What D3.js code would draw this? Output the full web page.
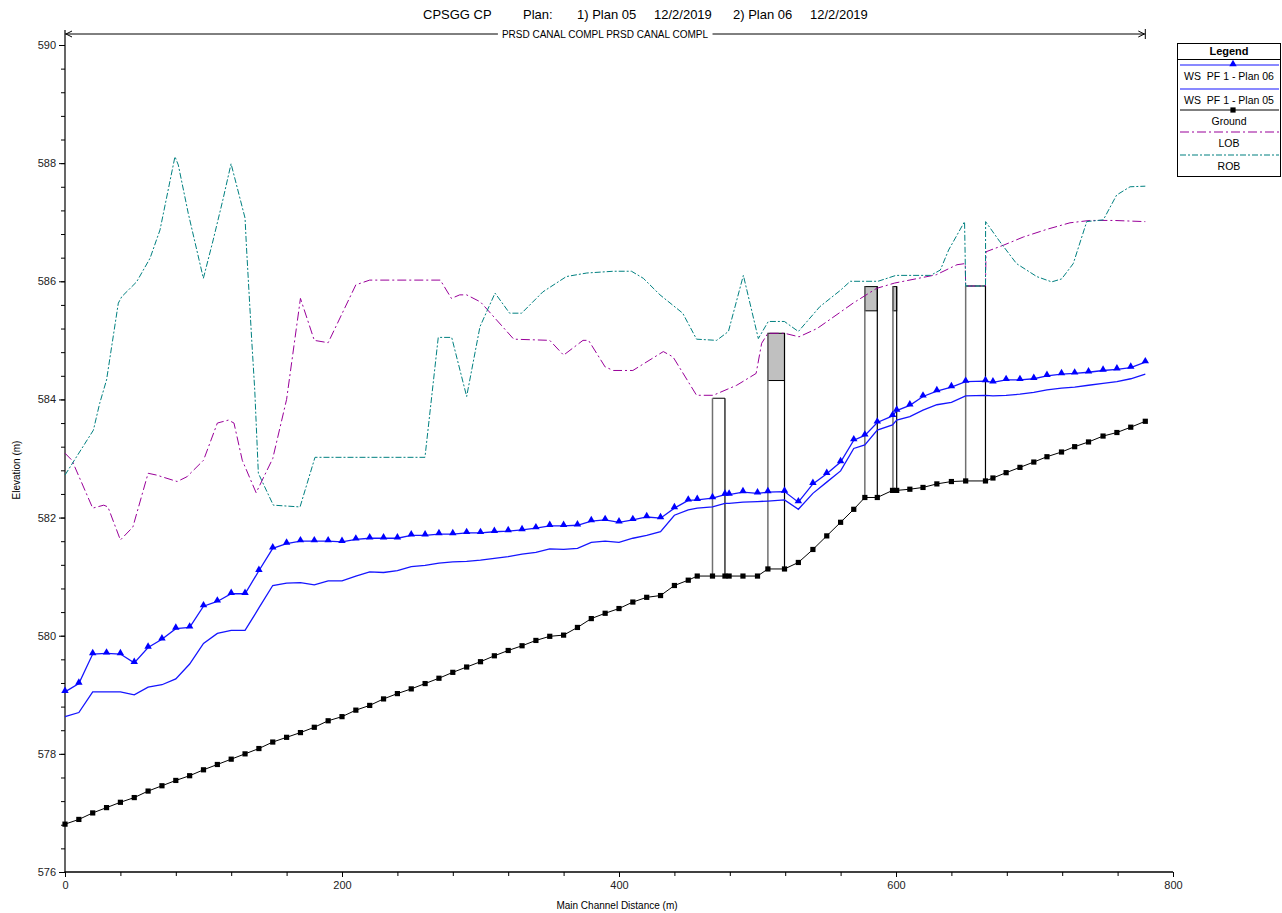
<!DOCTYPE html>
<html><head><meta charset="utf-8">
<script src="https://cdn.jsdelivr.net/npm/d3@7"></script>
<style>
body{margin:0;background:#fff;}
text{font-family:"Liberation Sans",Arial,sans-serif;fill:#000;white-space:pre;}
</style>
</head><body>
<svg id="chart" width="1282" height="913"></svg>
<script>
// ---------------- DATA ----------------
const stations = [0,10,20,30,40,50,60,70,80,90,
 100,110,120,130,140,150,160,170,180,190,
 200,210,220,230,240,250,260,270,280,290,
 300,310,320,330,340,350,360,370,380,390,
 400,410,420,430,440,450,456.5,467.5,476.5,479.5,
 489.5,500,507.5,519.5,529.5,540,550,560,569.5,577.5,
 586.5,597.5,600.5,610,619.5,629.5,640,650.3,664.6,670,
 679.5,689.5,699.5,709,719.5,729,739,749.5,759.5,769.5,
 780];
const ground = [576.81,576.89,577.00,577.09,577.18,577.26,577.37,577.46,577.55,577.63,
 577.73,577.82,577.91,578.00,578.09,578.20,578.28,578.36,578.45,578.56,
 578.63,578.74,578.82,578.93,579.02,579.10,579.19,579.28,579.38,579.47,
 579.56,579.66,579.75,579.83,579.92,579.99,580.01,580.14,580.29,580.38,
 580.46,580.57,580.65,580.68,580.85,580.94,581.01,581.01,581.01,581.01,
 581.01,581.01,581.13,581.13,581.24,581.46,581.69,581.92,582.14,582.34,
 582.34,582.46,582.46,582.48,582.51,582.57,582.61,582.62,582.62,582.67,
 582.76,582.85,582.94,583.03,583.11,583.20,583.28,583.38,583.44,583.53,
 583.63];
const wsPlan06 = [579.05,579.19,579.69,579.70,579.69,579.54,579.80,579.94,580.12,580.14,
 580.50,580.58,580.71,580.71,581.10,581.48,581.56,581.60,581.60,581.60,
 581.59,581.63,581.65,581.65,581.65,581.70,581.70,581.72,581.72,581.74,
 581.74,581.76,581.77,581.79,581.82,581.86,581.86,581.87,581.94,581.96,
 581.92,581.96,582.01,581.99,582.16,582.29,582.30,582.33,582.39,582.39,
 582.43,582.41,582.43,582.44,582.26,582.57,582.74,582.94,583.31,583.39,
 583.61,583.72,583.81,583.90,584.05,584.14,584.21,584.30,584.31,584.29,
 584.33,584.33,584.35,584.40,584.43,584.44,584.46,584.49,584.51,584.54,
 584.63];
const wsPlan05 = [578.63,578.70,579.05,579.05,579.05,579.00,579.13,579.17,579.27,579.52,
 579.87,580.04,580.09,580.09,580.47,580.85,580.89,580.90,580.86,580.93,
 580.93,581.01,581.08,581.07,581.10,581.17,581.19,581.23,581.25,581.26,
 581.28,581.31,581.34,581.38,581.41,581.47,581.46,581.48,581.58,581.60,
 581.58,581.65,581.70,581.76,582.04,582.13,582.16,582.18,582.24,582.24,
 582.26,582.27,582.28,582.30,582.14,582.41,582.60,582.79,583.17,583.23,
 583.48,583.57,583.65,583.71,583.82,583.91,583.95,584.06,584.07,584.06,
 584.07,584.09,584.12,584.16,584.19,584.21,584.24,584.27,584.30,584.35,
 584.43];
const lobDist = [0,5,20,28,31,40,49,60,66,81,88,100,110,118,122,128,138,150,160,170,
 180,190,210,220,271,279,285,290,300,324,350,360,374,378,390,396,410,432,439,456,
 468,485,499,503,507.5,519.5,530,543,560,569,586,599,629,644,650,650.3,664.6,665,677.5,692,
 709,725.6,740,757,780];
const lobElev = [583.09,582.97,582.16,582.21,582.18,581.62,581.84,582.75,582.72,582.61,
 582.69,582.97,583.60,583.65,583.60,582.97,582.42,583.00,584.00,585.71,
 585.00,584.96,585.94,586.02,586.02,585.71,585.77,585.77,585.65,585.02,
 585.00,584.75,585.00,585.00,584.55,584.49,584.49,584.81,584.72,584.07,
 584.07,584.24,584.44,584.95,585.12,585.12,585.06,585.20,585.48,585.63,
 585.88,585.97,586.11,586.28,586.30,585.92,585.92,586.50,586.61,586.75,
 586.88,586.99,587.03,587.03,587.01];
const robDist = [0,20.5,25,30,38.5,41,51.7,61.4,68.6,79.4,81.8,89,99.9,107,114,119.9,130,131,134.8,137,
 139.6,150.4,169.7,180.5,259.9,269.5,279.2,290,299.6,310.5,321,329.7,345,362,376.7,396,409,417.6,429.6,446,
 456,470.5,479,489.8,500.6,507.8,519.4,529.5,545,560,567,587,600,625,632,638,649.5,650.3,664.6,664.7,
 675,687,701.6,712.4,719.6,728,737.7,749.7,759.3,769,780];
const robElev = [582.72,583.48,583.93,584.33,585.63,585.74,585.99,586.39,586.87,588.11,
 587.97,587.15,586.05,586.70,587.38,587.99,587.07,586.59,585.01,584.16,
 582.75,582.21,582.18,583.02,583.02,585.05,585.05,584.05,585.23,585.80,
 585.46,585.46,585.82,586.08,586.14,586.17,586.17,586.05,585.77,585.46,
 585.02,585.00,585.15,586.10,585.03,585.32,585.32,585.15,585.57,585.85,
 586.00,586.00,586.10,586.10,586.19,586.53,587.01,585.92,585.92,587.01,
 586.67,586.30,586.08,585.99,586.04,586.30,587.01,587.04,587.46,587.60,
 587.61];
const bridgeUp = [467.5,507.5,577.5,597.8,650.3];
const bridgeDn = [476.5,519.5,586.5,600.5,664.6];
const lowChord = [584.02,584.32,585.50,585.50,585.92];
const highChord = [584.02,585.12,585.91,585.91,585.92];
const reachStart = 0, reachEnd = 780;
const xTicks = [0,200,400,600,800];
const yTicks = [576,578,580,582,584,586,588,590];
const titleParts = ["CPSGG CP","Plan:","1) Plan 05","12/2/2019","2) Plan 06","12/2/2019"];
const reachLabel = "PRSD CANAL COMPL PRSD CANAL COMPL";
const legendLabels = ["WS  PF 1 - Plan 06","WS  PF 1 - Plan 05","Ground","LOB","ROB"];
const xTitle = "Main Channel Distance (m)";
const yTitle = "Elevation (m)";

// ---------------- LAYOUT ----------------
const svg = d3.select("#chart");
const x = d3.scaleLinear().domain([0,800]).range([65,1173]);
const y = d3.scaleLinear().domain([576,590]).range([872,45]);
const WS_COLOR = "#1515ff", LOB_COLOR = "#990099", ROB_COLOR = "#008080";

// title
const titleX = [423,523,577,654,733,810];
const title = svg.append("text").attr("y",19).style("font-size","13px");
titleParts.forEach((t,i)=> title.append("tspan").attr("x",titleX[i]).text(t));

// axes
const gx = svg.append("g").attr("transform","translate(0,872)");
gx.call(d3.axisBottom(x).tickValues(d3.range(0,801,40)).tickSize(4).tickFormat(""));
gx.select(".domain").remove();
const gxl = svg.append("g").attr("transform","translate(0,872)")
  .call(d3.axisBottom(x).tickValues(xTicks).tickSize(5).tickPadding(4).tickFormat(d3.format("d")));
gxl.select(".domain").remove();
gxl.selectAll("text").style("font-size","11px").style("fill","#222").attr("font-family",null);

const gy = svg.append("g").attr("transform","translate(65,0)");
gy.call(d3.axisLeft(y).tickValues(d3.range(576,590.01,0.4)).tickSize(4).tickFormat(""));
gy.select(".domain").remove();
const gyl = svg.append("g").attr("transform","translate(65,0)")
  .call(d3.axisLeft(y).tickValues(yTicks).tickSize(6).tickPadding(3).tickFormat(d3.format("d")));
gyl.select(".domain").remove();
gyl.selectAll("text").style("font-size","11px").style("fill","#222").attr("font-family",null);

svg.append("line").attr("x1",65).attr("x2",65).attr("y1",30).attr("y2",872.5).attr("stroke","#000").attr("stroke-width",1.2);
svg.append("line").attr("x1",64.5).attr("x2",1173).attr("y1",872).attr("y2",872).attr("stroke","#000").attr("stroke-width",1.5);

svg.append("text").attr("x",617).attr("y",909).attr("text-anchor","middle").style("font-size","10px").text(xTitle);
svg.append("text").attr("transform","translate(20,470) rotate(-90)").attr("text-anchor","middle").style("font-size","10px").text(yTitle);

// reach line
const ry = 34;
const gr = svg.append("g");
gr.append("line").attr("x1",x(reachStart)).attr("x2",x(reachEnd)).attr("y1",ry).attr("y2",ry).attr("stroke","#000");
gr.append("path").attr("d",`M${x(reachStart)+7},${ry-3}L${x(reachStart)+1},${ry}L${x(reachStart)+7},${ry+3}`).attr("fill","none").attr("stroke","#000");
gr.append("path").attr("d",`M${x(reachEnd)-7},${ry-3}L${x(reachEnd)-1},${ry}L${x(reachEnd)-7},${ry+3}`).attr("fill","none").attr("stroke","#000");
gr.append("line").attr("x1",x(reachEnd)).attr("x2",x(reachEnd)).attr("y1",ry-5).attr("y2",ry+5).attr("stroke","#000");
const bgRect = gr.append("rect").attr("fill","#fff");
const rl = gr.append("text").attr("x",605).attr("y",ry+4).attr("text-anchor","middle").style("font-size","10px").text(reachLabel);
const bb = rl.node().getBBox();
bgRect.attr("x",bb.x-4).attr("y",bb.y).attr("width",bb.width+8).attr("height",bb.height);

// helpers
const groundAt = d3.scaleLinear().domain(stations).range(ground);

// bridges
const gb = svg.append("g");
bridgeUp.forEach((u,i)=>{
  const dn = bridgeDn[i];
  if (highChord[i] > lowChord[i]) {
    gb.append("rect").attr("x",x(u)).attr("y",y(highChord[i]))
      .attr("width",x(dn)-x(u)).attr("height",y(lowChord[i])-y(highChord[i]))
      .attr("fill","#c0c0c0").attr("stroke","#000");
  } else {
    gb.append("line").attr("x1",x(u)).attr("x2",x(dn)).attr("y1",y(highChord[i])).attr("y2",y(highChord[i])).attr("stroke","#000");
  }
  gb.append("line").attr("x1",x(u)).attr("x2",x(u)).attr("y1",y(groundAt(u))).attr("y2",y(highChord[i])).attr("stroke","#707070").attr("stroke-width",1.5);
  gb.append("line").attr("x1",x(dn)).attr("x2",x(dn)).attr("y1",y(groundAt(dn))).attr("y2",y(highChord[i])).attr("stroke","#000").attr("stroke-width",1.2);
});

// lines
const line = d3.line().x(d=>x(d[0])).y(d=>y(d[1]));
svg.append("path").datum(lobDist.map((d,i)=>[d,lobElev[i]])).attr("d",line)
  .attr("fill","none").attr("stroke",LOB_COLOR).attr("stroke-width",1).attr("stroke-dasharray","9,3,2,3");
svg.append("path").datum(robDist.map((d,i)=>[d,robElev[i]])).attr("d",line)
  .attr("fill","none").attr("stroke",ROB_COLOR).attr("stroke-width",1).attr("stroke-dasharray","6,2,2,2");

svg.append("path").datum(stations.map((d,i)=>[d,wsPlan05[i]])).attr("d",line)
  .attr("fill","none").attr("stroke",WS_COLOR).attr("stroke-width",1.3);
svg.append("path").datum(stations.map((d,i)=>[d,wsPlan06[i]])).attr("d",line)
  .attr("fill","none").attr("stroke",WS_COLOR).attr("stroke-width",1.3);
svg.append("path").datum(stations.map((d,i)=>[d,ground[i]])).attr("d",line)
  .attr("fill","none").attr("stroke","#000").attr("stroke-width",1);

const tri = d3.symbol().type(d3.symbolTriangle).size(24);
svg.append("g").selectAll("path").data(stations).join("path")
  .attr("d",tri).attr("transform",(d,i)=>`translate(${x(d)},${y(wsPlan06[i])-1})`).attr("fill","#0000ff");
svg.append("g").selectAll("rect").data(stations).join("rect")
  .attr("x",d=>x(d)-2.6).attr("y",(d,i)=>y(ground[i])-2.6).attr("width",5.2).attr("height",5.2).attr("fill","#000");

// legend
const L = svg.append("g");
L.append("rect").attr("x",1177.5).attr("y",43.5).attr("width",103).attr("height",133).attr("fill","#fff").attr("stroke","#000");
L.append("text").attr("x",1229).attr("y",55).attr("text-anchor","middle").style("font-size","11px").style("font-weight","bold").text("Legend");
L.append("line").attr("x1",1177.5).attr("x2",1280.5).attr("y1",59.5).attr("y2",59.5).attr("stroke","#000");
const lineY = [65,89,110,132,155];
const textY = [80,104,125,147,170];
const lstyles = [
  {c:WS_COLOR,dash:null},{c:WS_COLOR,dash:null},{c:"#000",dash:null},{c:LOB_COLOR,dash:"9,3,2,3"},{c:ROB_COLOR,dash:"6,2,2,2"}];
legendLabels.forEach((lab,i)=>{
  L.append("line").attr("x1",1180).attr("x2",1279).attr("y1",lineY[i]).attr("y2",lineY[i])
    .attr("stroke",lstyles[i].c).attr("stroke-width",1.2).attr("stroke-dasharray",lstyles[i].dash);
  L.append("text").attr("x",1229).attr("y",textY[i]).attr("text-anchor","middle").attr("xml:space","preserve").style("font-size","10.5px").text(lab);
});
L.append("path").attr("d",tri).attr("transform",`translate(1233,${lineY[0]-1})`).attr("fill","#0000ff");
L.append("rect").attr("x",1230.4).attr("y",lineY[2]-2.6).attr("width",5.2).attr("height",5.2).attr("fill","#000");
</script>
</body></html>
